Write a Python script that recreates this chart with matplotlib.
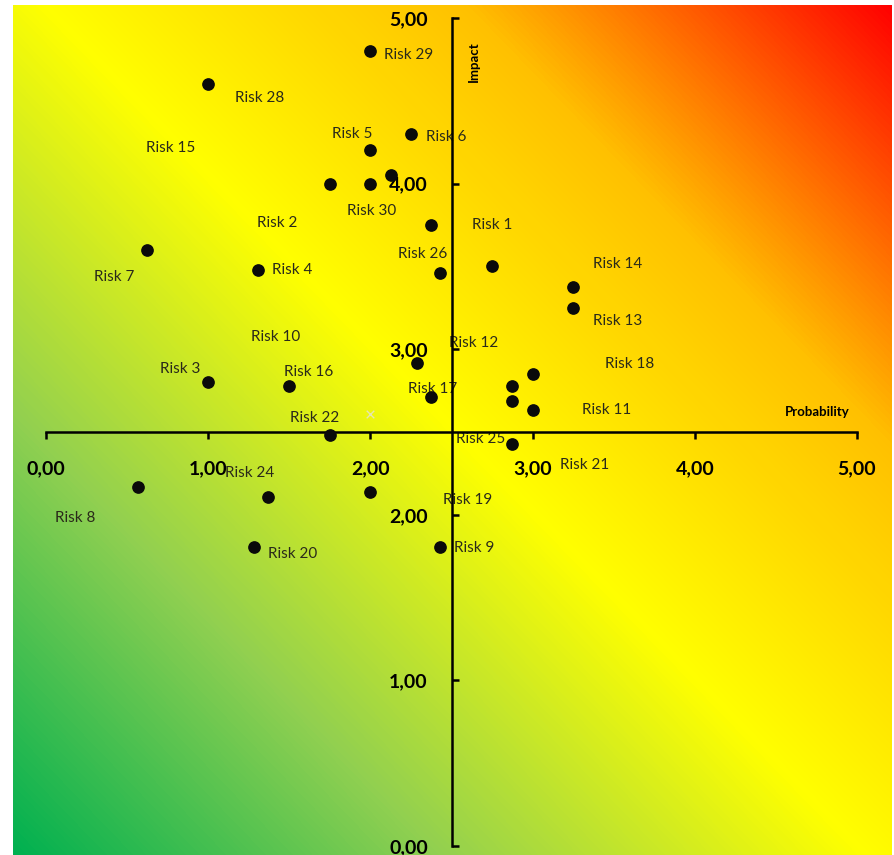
import matplotlib
matplotlib.use("Agg")
import matplotlib.pyplot as plt
import numpy as np
from matplotlib.colors import LinearSegmentedColormap

plt.rcParams['font.family'] = ['Lato', 'DejaVu Sans']

# risk points: probability / impact
prob = [2.0, 1.0, 2.25, 2.0, 2.125, 2.0, 1.75, 2.375, 0.62, 1.31, 2.75, 2.43, 3.25, 3.25,
        2.285, 3.0, 1.0, 1.5, 2.875, 2.375, 2.875, 3.0, 1.75, 2.875, 0.565, 1.37, 2.0, 1.28, 2.43]
impact = [4.8, 4.6, 4.3, 4.2, 4.05, 4.0, 4.0, 3.75, 3.6, 3.48, 3.5, 3.46, 3.375, 3.25,
          2.915, 2.85, 2.8, 2.775, 2.775, 2.71, 2.685, 2.635, 2.48, 2.43, 2.165, 2.105, 2.135, 1.805, 1.805]
# one point is barely visible (light cross)
faint_prob = [2.0]
faint_impact = [2.607]

# data labels as Excel placed them
label_names = ['Risk 29', 'Risk 28', 'Risk 5', 'Risk 6', 'Risk 15', 'Risk 30', 'Risk 2', 'Risk 26',
               'Risk 7', 'Risk 4', 'Risk 1', 'Risk 14', 'Risk 13', 'Risk 12', 'Risk 18', 'Risk 17',
               'Risk 11', 'Risk 25', 'Risk 21', 'Risk 19', 'Risk 9', 'Risk 22', 'Risk 16', 'Risk 10',
               'Risk 3', 'Risk 24', 'Risk 8', 'Risk 20']
label_x = [2.238, 1.319, 1.887, 2.466, 0.771, 2.010, 1.424, 2.324, 0.419, 1.517, 2.750, 3.527,
           3.527, 2.639, 3.600, 2.386, 3.459, 2.682, 3.323, 2.602, 2.639, 1.659, 1.621, 1.418,
           0.826, 1.258, 0.179, 1.523]
label_y = [4.777, 4.517, 4.300, 4.280, 4.215, 3.835, 3.762, 3.575, 3.436, 3.478, 3.750, 3.514,
           3.170, 3.037, 2.911, 2.760, 2.633, 2.458, 2.301, 2.089, 1.800, 2.585, 2.862, 3.074,
           2.880, 2.252, 1.981, 1.763]

ticks = [0, 1, 2, 3, 4, 5]
tick_labels = ['0,00', '1,00', '2,00', '3,00', '4,00', '5,00']

fig = plt.figure(figsize=(8.94, 8.55), dpi=100)

# gradient background (green -> yellow -> red, diagonal)
bg = fig.add_axes([13/894, 0.0, 879/894, 850/855])
W, H = 879, 850
X, Y = np.meshgrid(np.arange(W), np.arange(H))
t = (X * W + Y * H) / float(W * W + H * H)
cmap = LinearSegmentedColormap.from_list('risk', [(0.0, '#00B050'), (0.25, '#92D050'), (0.5, '#FFFF00'),
                                                   (0.75, '#FFC000'), (1.0, '#FF0000')])
bg.imshow(t, cmap=cmap, origin='lower', aspect='auto', vmin=0, vmax=1)
bg.axis('off')

ax = fig.add_axes([46/894, 9/855, 811/894, 828/855])
ax.patch.set_alpha(0)
ax.set_xlim(0, 5)
ax.set_ylim(0, 5)

for s in ['top', 'right']:
    ax.spines[s].set_visible(False)
ax.spines['left'].set_position(('data', 2.5))
ax.spines['bottom'].set_position(('data', 2.5))
for s in ['left', 'bottom']:
    ax.spines[s].set_linewidth(1.8)
    ax.spines[s].set_color('black')

ax.set_xticks(ticks)
ax.set_xticklabels(tick_labels)
ax.set_yticks(ticks)
ax.set_yticklabels(tick_labels)
ax.tick_params(axis='x', direction='out', length=5, width=1.8, pad=15, labelsize=14)
ax.tick_params(axis='y', direction='in', length=5, width=1.8, pad=17, labelsize=14)
for lab in ax.get_xticklabels() + ax.get_yticklabels():
    lab.set_fontweight('bold')

ax.scatter(prob, impact, s=66, color='#0a0a0a', zorder=3)
ax.scatter(faint_prob, faint_impact, s=30, marker='x', color='#e6e6b0', linewidths=1, zorder=3)

for name, lx, ly in zip(label_names, label_x, label_y):
    ax.text(lx, ly, name, fontsize=11, color='#2a2a1a', ha='center', va='center', zorder=2)

ax.text(4.957, 2.621, 'Probability', fontsize=9.5, fontweight='bold', ha='right', va='center')
ax.text(2.636, 4.737, 'Impact', fontsize=9.5, fontweight='bold', rotation=90, ha='center', va='center')

plt.savefig('out.png', dpi=100)
